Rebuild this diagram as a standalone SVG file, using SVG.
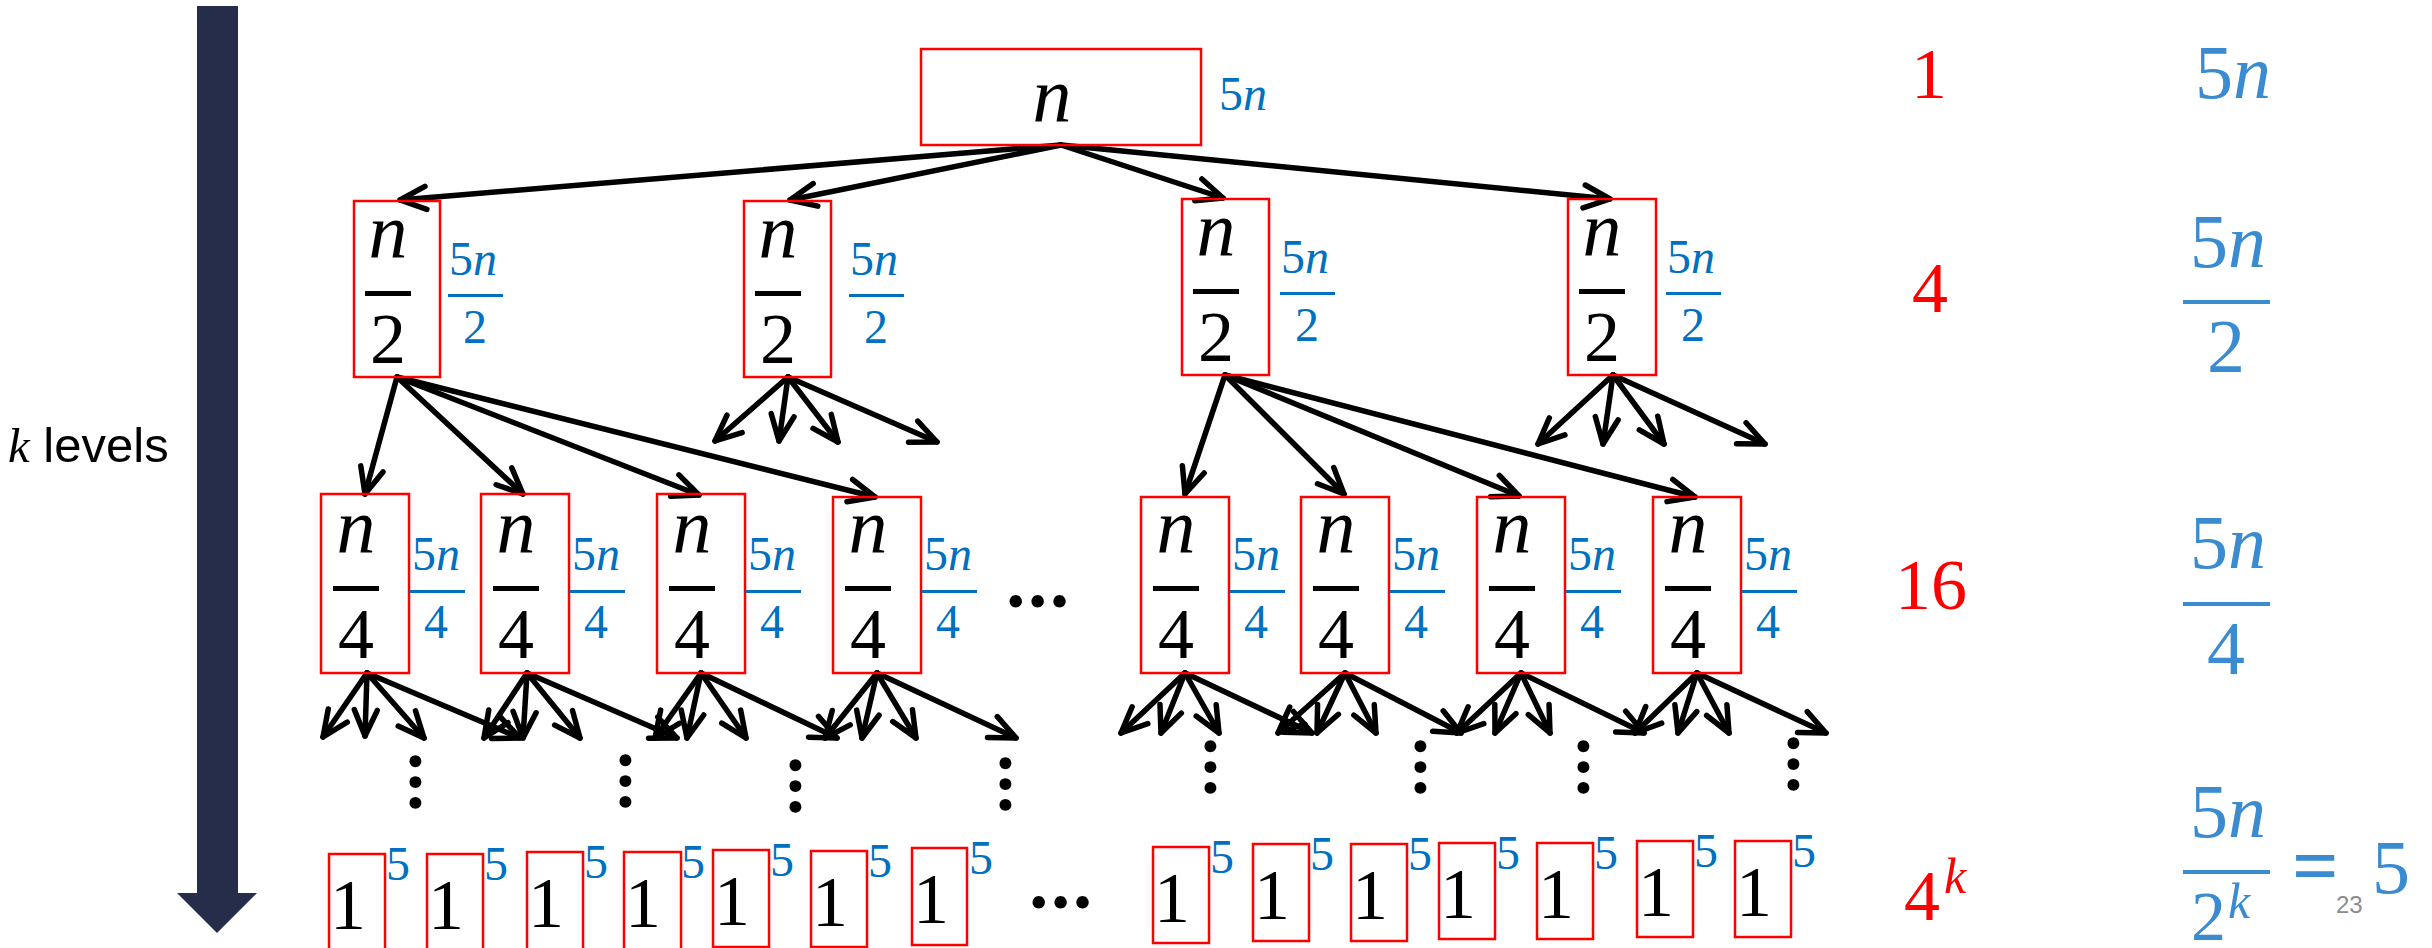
<svg xmlns="http://www.w3.org/2000/svg" width="2432" height="948" viewBox="0 0 2432 948">
<style>
.box{fill:none;stroke:#FF0000;stroke-width:2.5}
.m{font-family:"Liberation Serif",serif;fill:#000;text-anchor:middle}
.n{font-style:italic;font-size:78px}
.d{font-size:72px}
.it{font-style:italic}
.b{font-family:"Liberation Serif",serif;fill:#0070C0;font-size:48px}
.bc{text-anchor:middle}
.bbar{fill:#0070C0}
.kbar{fill:#000}
.r{font-family:"Liberation Serif",serif;fill:#FF0000;font-size:72px;text-anchor:middle}
.bb{font-family:"Liberation Serif",serif;fill:#3A8BD0;font-size:76px;text-anchor:middle}
.bbbar{fill:#3A8BD0}
.dots{font-family:Lato,sans-serif;font-weight:bold;font-size:82px;fill:#000}
.vd{font-family:Lato,sans-serif;font-weight:bold;font-size:78px;fill:#000}
.conn line{stroke:#000;stroke-width:5.5;stroke-linecap:round;marker-end:url(#ah)}
</style>
<defs>
<marker id="ah" markerUnits="userSpaceOnUse" viewBox="-30 -16 34 32" markerWidth="34" markerHeight="32" refX="0" refY="0" orient="auto">
<path d="M-26,-11.5 L0,0 L-26,11.5" fill="none" stroke="#000" stroke-width="5.5" stroke-linecap="round" stroke-linejoin="round"/>
</marker>
<g id="f2"><text class="m n" x="0" y="0">n</text><rect class="kbar" x="-23" y="33" width="46" height="5"/><text class="m d" x="0" y="105">2</text></g>
<g id="f4"><text class="m n" x="0" y="0">n</text><rect class="kbar" x="-23" y="33" width="46" height="5"/><text class="m d" x="0" y="105">4</text></g>
<g id="l2"><text class="b" x="0" y="0">5<tspan class="it">n</tspan></text><rect class="bbar" x="-1" y="19" width="55" height="3"/><text class="b bc" x="26" y="68">2</text></g>
<g id="l4"><text class="b" x="0" y="0">5<tspan class="it">n</tspan></text><rect class="bbar" x="-2" y="20" width="55" height="3"/><text class="b bc" x="24" y="68">4</text></g>
<g id="one"><text class="m d" x="19" y="75">1</text><text class="b" x="57" y="26">5</text></g>
</defs>

<g id="depth-arrow">
<path d="M197,6 H238 V893 H257 L217,933 L177,893 H197 Z" fill="#252D4A"/>
<text x="8" y="462" font-family="Liberation Sans,sans-serif" font-size="49" fill="#000"><tspan font-family="Liberation Serif,serif" font-style="italic">k</tspan> levels</text>
</g>

<g class="conn" id="connectors">
<line x1="1061" y1="145" x2="400" y2="200"/>
<line x1="1061" y1="145" x2="790" y2="200"/>
<line x1="1061" y1="145" x2="1223" y2="198"/>
<line x1="1061" y1="145" x2="1610" y2="199"/>

<line x1="397" y1="377" x2="365" y2="494"/>
<line x1="397" y1="377" x2="523" y2="494"/>
<line x1="397" y1="377" x2="699" y2="495"/>
<line x1="397" y1="377" x2="875" y2="497"/>

<line x1="1225" y1="375" x2="1185" y2="494"/>
<line x1="1225" y1="375" x2="1344" y2="494"/>
<line x1="1225" y1="375" x2="1519" y2="496"/>
<line x1="1225" y1="375" x2="1695" y2="497"/>

<line x1="788" y1="377" x2="715" y2="441"/>
<line x1="788" y1="377" x2="779" y2="441"/>
<line x1="788" y1="377" x2="838" y2="442"/>
<line x1="788" y1="377" x2="937" y2="442"/>

<line x1="1613" y1="375" x2="1538" y2="444"/>
<line x1="1613" y1="375" x2="1603" y2="444"/>
<line x1="1613" y1="375" x2="1664" y2="444"/>
<line x1="1613" y1="375" x2="1765" y2="444"/>

<line x1="367" y1="673" x2="323" y2="737"/>
<line x1="367" y1="673" x2="365" y2="736"/>
<line x1="367" y1="673" x2="424" y2="738"/>
<line x1="367" y1="673" x2="520" y2="738"/>

<line x1="527" y1="673" x2="484" y2="738"/>
<line x1="527" y1="673" x2="523" y2="738"/>
<line x1="527" y1="673" x2="580" y2="738"/>
<line x1="527" y1="673" x2="677" y2="738"/>

<line x1="701" y1="673" x2="655" y2="738"/>
<line x1="701" y1="673" x2="687" y2="738"/>
<line x1="701" y1="673" x2="746" y2="738"/>
<line x1="701" y1="673" x2="837" y2="738"/>

<line x1="877" y1="673" x2="825" y2="738"/>
<line x1="877" y1="673" x2="862" y2="738"/>
<line x1="877" y1="673" x2="916" y2="738"/>
<line x1="877" y1="673" x2="1016" y2="738"/>

<line x1="1185" y1="673" x2="1121" y2="733"/>
<line x1="1185" y1="673" x2="1161" y2="733"/>
<line x1="1185" y1="673" x2="1219" y2="733"/>
<line x1="1185" y1="673" x2="1312" y2="733"/>

<line x1="1345" y1="673" x2="1278" y2="733"/>
<line x1="1345" y1="673" x2="1317" y2="733"/>
<line x1="1345" y1="673" x2="1376" y2="733"/>
<line x1="1345" y1="673" x2="1461" y2="733"/>

<line x1="1521" y1="673" x2="1457" y2="733"/>
<line x1="1521" y1="673" x2="1495" y2="733"/>
<line x1="1521" y1="673" x2="1550" y2="733"/>
<line x1="1521" y1="673" x2="1644" y2="733"/>

<line x1="1697" y1="673" x2="1635" y2="733"/>
<line x1="1697" y1="673" x2="1678" y2="733"/>
<line x1="1697" y1="673" x2="1729" y2="733"/>
<line x1="1697" y1="673" x2="1826" y2="733"/>
</g>

<g id="root">
<rect class="box" x="921" y="49" width="280" height="96"/>
<text class="m n" x="1052" y="122">n</text>
<text class="b" x="1219" y="110">5<tspan class="it">n</tspan></text>
</g>

<g id="l1-1"><rect class="box" x="354" y="201" width="86" height="176"/><use href="#f2" x="388" y="258"/><use href="#l2" x="449" y="275"/></g>
<g id="l1-2"><rect class="box" x="744" y="201" width="87" height="176"/><use href="#f2" x="778" y="258"/><use href="#l2" x="850" y="275"/></g>
<g id="l1-3"><rect class="box" x="1182" y="199" width="87" height="176"/><use href="#f2" x="1216" y="256"/><use href="#l2" x="1281" y="273"/></g>
<g id="l1-4"><rect class="box" x="1568" y="199" width="88" height="176"/><use href="#f2" x="1602" y="256"/><use href="#l2" x="1667" y="273"/></g>

<g id="l2-1"><rect class="box" x="321" y="494" width="88" height="179"/><use href="#f4" x="356" y="553"/><use href="#l4" x="412" y="570"/></g>
<g id="l2-2"><rect class="box" x="481" y="494" width="88" height="179"/><use href="#f4" x="516" y="553"/><use href="#l4" x="572" y="570"/></g>
<g id="l2-3"><rect class="box" x="657" y="494" width="88" height="179"/><use href="#f4" x="692" y="553"/><use href="#l4" x="748" y="570"/></g>
<g id="l2-4"><rect class="box" x="833" y="497" width="88" height="176"/><use href="#f4" x="868" y="553"/><use href="#l4" x="924" y="570"/></g>
<g id="l2-5"><rect class="box" x="1141" y="497" width="88" height="176"/><use href="#f4" x="1176" y="553"/><use href="#l4" x="1232" y="570"/></g>
<g id="l2-6"><rect class="box" x="1301" y="497" width="88" height="176"/><use href="#f4" x="1336" y="553"/><use href="#l4" x="1392" y="570"/></g>
<g id="l2-7"><rect class="box" x="1477" y="497" width="88" height="176"/><use href="#f4" x="1512" y="553"/><use href="#l4" x="1568" y="570"/></g>
<g id="l2-8"><rect class="box" x="1653" y="497" width="88" height="176"/><use href="#f4" x="1688" y="553"/><use href="#l4" x="1744" y="570"/></g>

<g id="hdots-mid"><text class="dots" x="1006" y="607">…</text></g>
<g id="hdots-bot"><text class="dots" x="1029" y="908">…</text></g>

<g id="vdots">
<text class="vd" transform="translate(410,752) rotate(90)">…</text>
<text class="vd" transform="translate(620,751) rotate(90)">…</text>
<text class="vd" transform="translate(790,756) rotate(90)">…</text>
<text class="vd" transform="translate(1000,754) rotate(90)">…</text>
<text class="vd" transform="translate(1205,737) rotate(90)">…</text>
<text class="vd" transform="translate(1415,737) rotate(90)">…</text>
<text class="vd" transform="translate(1578,737) rotate(90)">…</text>
<text class="vd" transform="translate(1788,734) rotate(90)">…</text>
</g>

<g id="leaves">
<g id="leaf-1"><rect class="box" x="329" y="854" width="56" height="98"/><use href="#one" x="329" y="854"/></g>
<g id="leaf-2"><rect class="box" x="427" y="854" width="56" height="98"/><use href="#one" x="427" y="854"/></g>
<g id="leaf-3"><rect class="box" x="527" y="852" width="56" height="98"/><use href="#one" x="527" y="852"/></g>
<g id="leaf-4"><rect class="box" x="624" y="852" width="57" height="98"/><use href="#one" x="624" y="852"/></g>
<g id="leaf-5"><rect class="box" x="713" y="850" width="56" height="97"/><use href="#one" x="713" y="850"/></g>
<g id="leaf-6"><rect class="box" x="811" y="851" width="56" height="96"/><use href="#one" x="811" y="851"/></g>
<g id="leaf-7"><rect class="box" x="912" y="848" width="55" height="97"/><use href="#one" x="912" y="848"/></g>
<g id="leaf-8"><rect class="box" x="1153" y="847" width="56" height="96"/><use href="#one" x="1153" y="847"/></g>
<g id="leaf-9"><rect class="box" x="1253" y="844" width="56" height="97"/><use href="#one" x="1253" y="844"/></g>
<g id="leaf-10"><rect class="box" x="1351" y="844" width="56" height="97"/><use href="#one" x="1351" y="844"/></g>
<g id="leaf-11"><rect class="box" x="1439" y="843" width="56" height="96"/><use href="#one" x="1439" y="843"/></g>
<g id="leaf-12"><rect class="box" x="1537" y="843" width="56" height="96"/><use href="#one" x="1537" y="843"/></g>
<g id="leaf-13"><rect class="box" x="1637" y="841" width="56" height="96"/><use href="#one" x="1637" y="841"/></g>
<g id="leaf-14"><rect class="box" x="1735" y="841" width="56" height="96"/><use href="#one" x="1735" y="841"/></g>
</g>

<g id="counts">
<text class="r" x="1929" y="98">1</text>
<text class="r" x="1930" y="312">4</text>
<text class="r" x="1931" y="609">16</text>
<text class="r" x="1922" y="920">4</text>
<text class="r it" x="1944" y="893" style="font-size:50px;text-anchor:start">k</text>
</g>

<g id="costs">
<text class="bb" x="2233" y="98">5<tspan class="it">n</tspan></text>
<text class="bb" x="2228" y="267">5<tspan class="it">n</tspan></text>
<rect class="bbbar" x="2183" y="300" width="87" height="4"/>
<text class="bb" x="2226" y="372">2</text>
<text class="bb" x="2228" y="568">5<tspan class="it">n</tspan></text>
<rect class="bbbar" x="2183" y="602" width="87" height="4"/>
<text class="bb" x="2226" y="674">4</text>
<text class="bb" x="2228" y="837">5<tspan class="it">n</tspan></text>
<rect class="bbbar" x="2183" y="870" width="87" height="4"/>
<text class="bb" x="2191" y="940" style="font-size:70px;text-anchor:start">2</text>
<text class="bb it" x="2228" y="918" style="font-size:50px;text-anchor:start">k</text>
<text class="bb" x="2292" y="893" style="font-size:82px;font-weight:bold;text-anchor:start">=</text>
<text class="bb" x="2372" y="893" style="text-anchor:start">5</text>
</g>

<g id="slide-number"><text x="2336" y="913" font-family="Liberation Sans,sans-serif" font-size="24" fill="#8C8C8C">23</text></g>
</svg>
